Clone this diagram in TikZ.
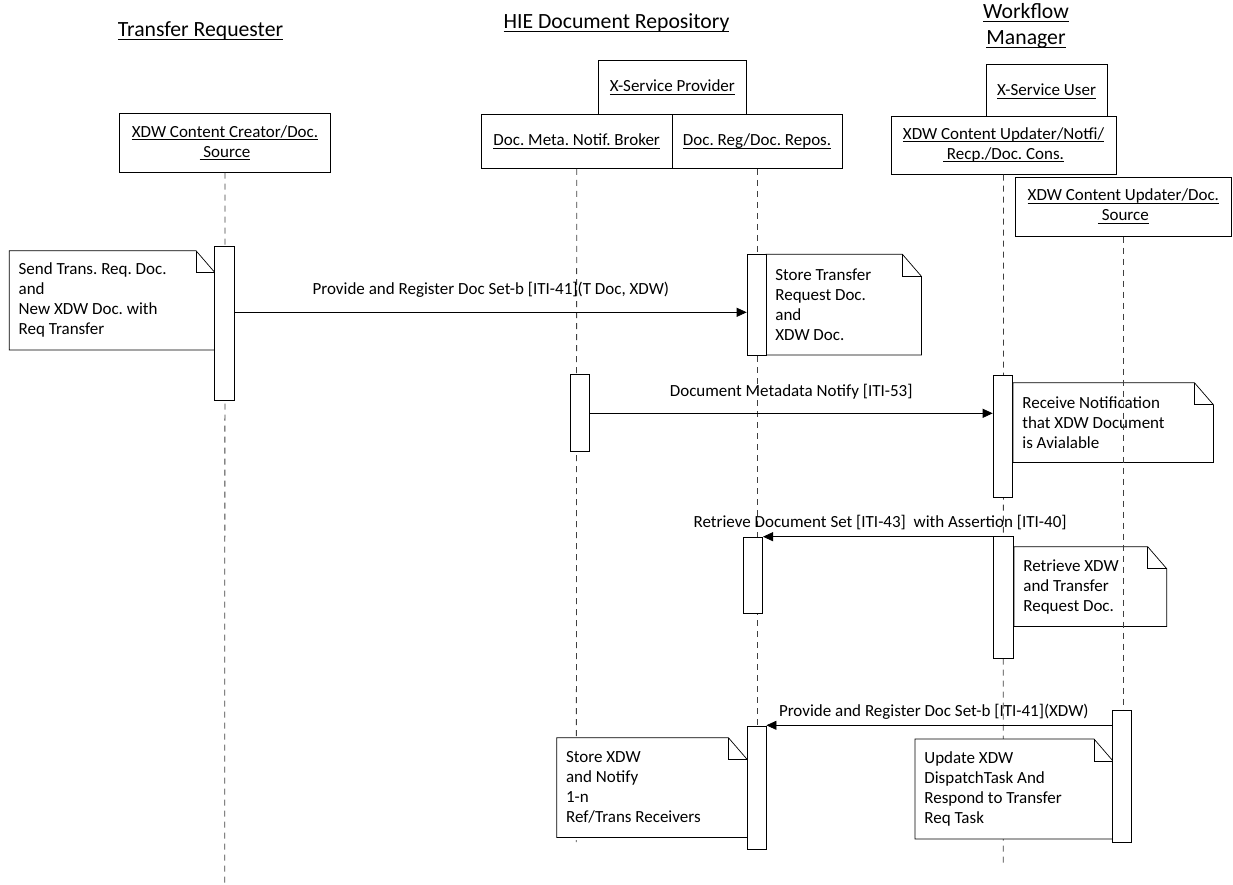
\documentclass[tikz,border=0pt]{standalone}
\usepackage{amsmath}
\usepackage{fontspec}
\setmainfont{Carlito}
\usepackage{tikz}
\usetikzlibrary{positioning}
\usetikzlibrary{calc}
\usetikzlibrary{arrows, arrows.meta}
\frenchspacing

\newcommand{\undl}[1]{\underline{\smash[b]{#1}}}
% outline of a note with its folded corner
\newcommand{\foldnote}[1]{%
  \draw (#1.south west) -- (#1.north west) -- ([xshift=-19pt]#1.north east) -- ([yshift=-22pt]#1.north east) -- (#1.south east) -- cycle;
  \draw ([xshift=-19pt]#1.north east) |- ([yshift=-22pt]#1.north east);}

\tikzset{
  title/.style={font=\fontsize{21.7}{26}\selectfont, inner sep=0pt},
  actor/.style={draw, fill=white, align=center, inner sep=0pt, anchor=north west},
  lifeline/.style={black!75, line width=0.8pt, dash pattern=on 6pt off 5pt},
  actbar/.style={draw, fill=white, minimum width=19pt, inner sep=0pt, anchor=north west},
  note/.style={fill=white, inner xsep=9pt, inner ysep=0pt, align=flush left, anchor=north west},
  msg/.style={line width=0.8pt, -{Triangle[length=10pt, width=9pt]}},
}

\begin{document}
\begin{tikzpicture}[x=1pt, y=-1pt, line width=0.7pt, font=\fontsize{17}{20}\selectfont]
  \useasboundingbox (0,0) rectangle (1233,885);

  % groups
  \node[title, anchor=base] (treq) at (200.5,37) {\undl{Transfer Requester}};
  \node[title, anchor=base] (hie) at (616.5,29) {\undl{HIE Document Repository}};
  \node[title, anchor=base, align=center] (wfm) at (1026,45) {\undl{Workflow}\\\undl{Manager}};

  % actors
  \node[actor, minimum width=210.7pt, minimum height=58.7pt] (creator) at (119.3,113.3) {\undl{XDW Content Creator/Doc.}\\\undl{\ Source}};
  \node[actor, minimum width=147.4pt, minimum height=54.3pt] (xsp) at (598.3,60) {\undl{X-Service Provider}};
  \node[actor, minimum width=190.7pt, minimum height=54pt] (broker) at (481,114.3) {\undl{Doc. Meta. Notif. Broker}};
  \node[actor, minimum width=170pt, minimum height=54pt] (repos) at (671.7,114.3) {\undl{Doc. Reg/Doc. Repos.}};
  \node[actor, minimum width=121pt, minimum height=53.4pt] (xsu) at (985.7,64.3) {\undl{X-Service User}};
  \node[actor, minimum width=225pt, minimum height=58.3pt] (notfi) at (890.7,115.7) {\undl{XDW Content Updater/Notfi/}\\\undl{\ Recp./Doc. Cons.}};
  \node[actor, minimum width=216pt, minimum height=59.3pt] (updsrc) at (1015,176.7) {\undl{XDW Content Updater/Doc.}\\\undl{\ Source}};

  % lifelines
  \coordinate (creatorend) at (224.7,885);
  \coordinate (brokerend) at (576.3,842);
  \coordinate (notfiend) at (1003.2,863);
  \draw[lifeline] (creator.south) -- (creatorend);
  \draw[lifeline] (broker.south) -- (brokerend);
  \draw[lifeline] (repos.south) -- (repos.south |- 0,849);
  \draw[lifeline] (notfi.south) -- (notfiend);

  % notes
  \node[note, text width=187pt, minimum height=98.6pt] (n1) at (9.3,250.7) {Send Trans. Req. Doc.\\and\\New XDW Doc. with\\Req Transfer};
  \foldnote{n1}
  \node[note, text width=136.7pt, minimum height=100pt] (n2) at (766,254.3) {Store Transfer\\Request Doc.\\and\\XDW Doc.};
  \foldnote{n2}
  \node[note, text width=181.7pt, minimum height=79pt] (n3) at (1013,382.7) {Receive Notification\\that XDW Document\\is Avialable};
  \foldnote{n3}
  \node[note, text width=134pt, minimum height=79pt] (n4) at (1014,546.7) {Retrieve XDW\\and Transfer\\Request Doc.};
  \foldnote{n4}
  \node[note, text width=172pt, minimum height=99pt] (n5) at (556.7,737.7) {Store XDW\\and Notify\\1-n\\Ref/Trans Receivers};
  \foldnote{n5}
  \node[note, text width=179.3pt, minimum height=99.3pt] (n6) at (915,739) {Update XDW\\DispatchTask And\\Respond to Transfer\\Req Task};
  \foldnote{n6}

  % lifeline of the updater source, over the notes
  \draw[lifeline] (updsrc.south) -- (updsrc.south |- 0,710);

  % activation bars
  \node[actbar, minimum width=20pt, minimum height=154.3pt] (req1) at (214.3,245.7) {};
  \node[actbar, minimum height=100.7pt] (rep1) at (746.7,254.3) {};
  \node[actbar, minimum height=76.7pt] (brk1) at (570,374.3) {};
  \node[actbar, minimum height=122pt] (wf1) at (992.7,375) {};
  \node[actbar, minimum height=76.6pt] (rep2) at (743.3,536.7) {};
  \node[actbar, minimum width=20pt, minimum height=122pt] (wf2) at (993,536) {};
  \node[actbar, minimum height=123pt] (rep3) at (746.7,726) {};
  \node[actbar, minimum height=131.7pt] (src1) at (1112.3,710) {};

  % messages
  \coordinate (m1) at (0,312.3);
  \coordinate (m2) at (0,413.3);
  \coordinate (m3) at (0,536.7);
  \coordinate (m4) at (0,725.3);
  \draw[msg] (req1.east |- m1) -- (rep1.west |- m1) node[pos=0.5, anchor=base, yshift=17.5pt] {Provide and Register Doc Set-b [ITI-41](T Doc, XDW)};
  \draw[msg] (brk1.east |- m2) -- (wf1.west |- m2) node[pos=0.5, anchor=base, yshift=16.6pt] {Document Metadata Notify [ITI-53]};
  \draw[msg] (wf2.west |- m3) -- (rep2.east |- m3) node[pos=0.491, anchor=base, yshift=9.7pt] {Retrieve Document Set [ITI-43]\ \ with Assertion [ITI-40]};
  \draw[msg] (src1.west |- m4) -- (rep3.east |- m4) node[pos=0.516, anchor=base, yshift=8.6pt] {Provide and Register Doc Set-b [ITI-41](XDW)};
\end{tikzpicture}
\end{document}
